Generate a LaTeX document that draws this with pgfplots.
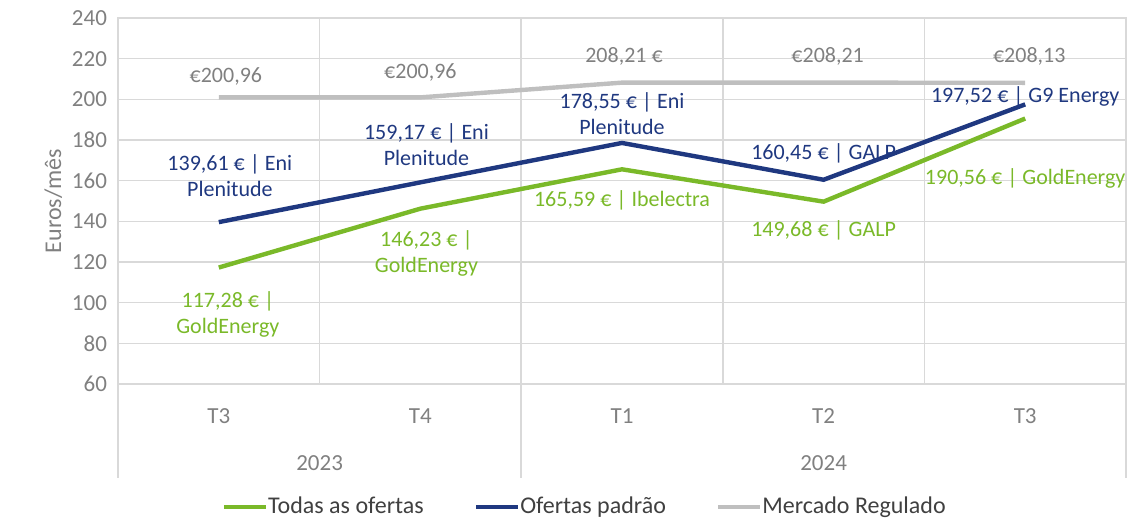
\documentclass[border=0pt]{standalone}
\usepackage{fontspec}
\setmainfont{Carlito}
\usepackage{pgfplots}
\pgfplotsset{compat=1.18}
\definecolor{verde}{RGB}{122,185,41}
\definecolor{azul}{RGB}{31,56,128}
\definecolor{cinza}{RGB}{191,191,191}
\definecolor{cinzatxt}{RGB}{128,128,128}
\definecolor{grelha}{RGB}{217,217,217}
\definecolor{legtxt}{RGB}{64,64,64}

\begin{document}
\begin{tikzpicture}
\useasboundingbox (-59pt,-68pt) rectangle (508pt,192pt);
\begin{axis}[
  at={(0,0)}, anchor=south west,
  scale only axis,
  width=504pt, height=183pt,
  xmin=-0.5, xmax=4.5,
  ymin=60, ymax=240,
  ytick={60,80,...,240},
  xtick={0,1,2,3,4},
  xticklabels={T3,T4,T1,T2,T3},
  minor xtick={0.5,1.5,2.5,3.5},
  major x tick style={draw=none},
  minor x tick style={draw=none},
  ytick style={draw=none},
  xminorgrids, ymajorgrids,
  grid style={draw=grelha, line width=0.8pt},
  minor grid style={draw=grelha, line width=0.8pt},
  axis line style={draw=grelha, line width=0.8pt},
  tick label style={font=\fontsize{11.5}{13}\selectfont, text=cinzatxt},
  xticklabel style={yshift=-9pt},
  yticklabel style={xshift=-2pt},
  /pgf/number format/assume math mode=true,
  ylabel={Euros/mês},
  ylabel style={font=\fontsize{12}{14}\selectfont, text=cinzatxt, yshift=-2pt},
  clip=false,
  legend columns=3,
  legend style={at={(0.464,-0.336)}, anchor=center, draw=none, fill=none,
    font=\fontsize{12}{14}\selectfont, text=legtxt,
    /tikz/every even column/.append style={column sep=23pt},
    /tikz/every odd column/.append style={column sep=-2pt}},
  legend image code/.code={\draw[#1, line width=2.2pt] (0pt,0pt) -- (21pt,0pt);},
  every axis plot/.append style={line width=2.2pt},
]
\addplot[color=verde] coordinates {(0,117.28) (1,146.23) (2,165.59) (3,149.68) (4,190.56)};
\addlegendentry{Todas as ofertas}
\addplot[color=azul] coordinates {(0,139.61) (1,159.17) (2,178.55) (3,160.45) (4,197.52)};
\addlegendentry{Ofertas padrão}
\addplot[color=cinza] coordinates {(0,200.96) (1,200.96) (2,208.21) (3,208.21) (4,208.13)};
\addlegendentry{Mercado Regulado}

% separadores das categorias de ano
\draw[grelha, line width=0.8pt] (axis cs:-0.5,60) -- ([yshift=-47pt]axis cs:-0.5,60);
\draw[grelha, line width=0.8pt] (axis cs:1.5,60) -- ([yshift=-47pt]axis cs:1.5,60);
\draw[grelha, line width=0.8pt] (axis cs:4.5,60) -- ([yshift=-47pt]axis cs:4.5,60);
\node[font=\fontsize{11.5}{13}\selectfont, text=cinzatxt] at ([yshift=-39.5pt]axis cs:0.5,60) {2023};
\node[font=\fontsize{11.5}{13}\selectfont, text=cinzatxt] at ([yshift=-39.5pt]axis cs:3,60) {2024};

% rotulos de dados
\begin{scope}[every node/.style={font=\fontsize{11}{13}\selectfont, align=center, inner sep=0pt}]
\node[text=cinzatxt] at (axis cs:0.035,211.0) {€200,96};
\node[text=cinzatxt] at (axis cs:1.0,213.4) {€200,96};
\node[text=cinzatxt] at (axis cs:2.01,221.3) {208,21 €};
\node[text=cinzatxt] at (axis cs:3.02,221.3) {€208,21};
\node[text=cinzatxt] at (axis cs:4.02,221.3) {€208,13};

\node[text=azul] at (axis cs:0.055,162.3) {139,61 € | Eni\\Plenitude};
\node[text=azul] at (axis cs:1.03,177.5) {159,17 € | Eni\\Plenitude};
\node[text=azul] at (axis cs:2.0,193.0) {178,55 € | Eni\\Plenitude};
\node[text=azul] at (axis cs:3.0,173.6) {160,45 € | GALP};
\node[text=azul] at (axis cs:4.0,201.2) {197,52 € | G9 Energy};

\node[text=verde] at (axis cs:0.045,94.4) {117,28 € |\\GoldEnergy};
\node[text=verde] at (axis cs:1.03,124.4) {146,23 € |\\GoldEnergy};
\node[text=verde] at (axis cs:2.0,150.5) {165,59 € | Ibelectra};
\node[text=verde] at (axis cs:3.0,135.7) {149,68 € | GALP};
\node[text=verde] at (axis cs:4.0,161.3) {190,56 € | GoldEnergy};
\end{scope}
\end{axis}
\end{tikzpicture}
\end{document}
